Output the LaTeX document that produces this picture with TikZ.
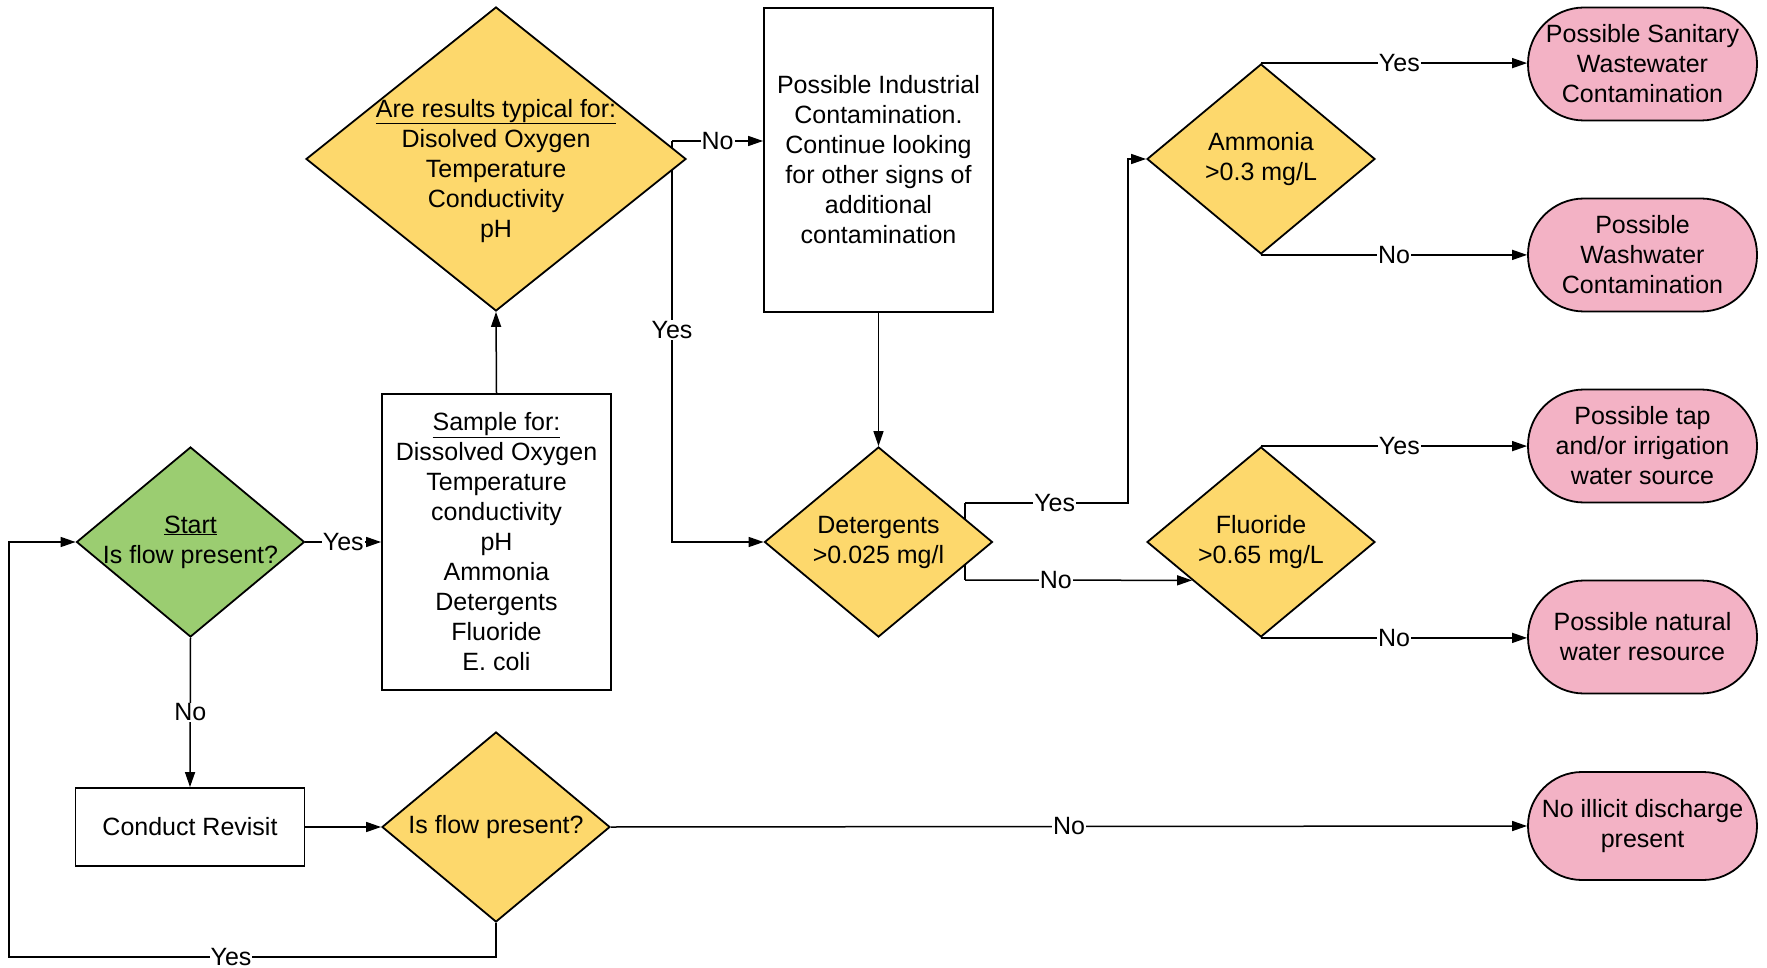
\documentclass[tikz,border=0pt]{standalone}
\usepackage{fontspec}
\setmainfont{Liberation Sans}
\usetikzlibrary{arrows.meta,shapes.geometric,calc}
\definecolor{fgreen}{RGB}{155,205,113}
\definecolor{fyellow}{RGB}{253,216,108}
\definecolor{fpink}{RGB}{243,178,197}
\newcommand\dtxt[2][0pt]{\makebox[0pt]{\smash{\raisebox{\dimexpr-0.25em-#1\relax}{\begin{tabular}{@{}c@{}}#2\end{tabular}}}}}
\begin{document}
\begin{tikzpicture}[x=1pt,y=-1pt,
 every node/.style={font=\fontsize{25}{30}\selectfont},
 dia/.style={shape=diamond, draw, line width=1.8pt, inner sep=0pt, fill=fyellow},
 boxn/.style={rectangle, draw, line width=1.8pt, inner sep=0pt, fill=white, align=center},
 term/.style={rectangle, rounded corners=56pt, draw, line width=1.8pt, fill=fpink, inner sep=0pt, minimum width=229pt, minimum height=113pt, align=center},
 arr/.style={line width=1.5pt, -{Triangle[length=15pt,width=10pt]}},
 ln/.style={line width=1.5pt},
 lbl/.style={fill=white, inner sep=1pt}
]
\useasboundingbox[fill=white] (0,0) rectangle (1767,968);

% nodes
\node[dia, fill=fgreen, minimum width=228pt, minimum height=190pt] (start) at (190.5,542) {\dtxt{\underline{Start}\\Is flow present?}};
\node[boxn, minimum width=229pt, minimum height=296pt] (samp) at (496.5,542) {\underline{Sample for:}\\Dissolved Oxygen\\Temperature\\conductivity\\pH\\Ammonia\\Detergents\\Fluoride\\E. coli};
\node[dia, minimum width=380pt, minimum height=304pt] (are) at (496,159) {\dtxt[12pt]{\underline{Are results typical for:}\\Disolved Oxygen\\Temperature\\Conductivity\\pH}};
\node[boxn, minimum width=229pt, minimum height=304pt] (ind) at (878.5,160) {Possible Industrial\\Contamination.\\Continue looking\\for other signs of\\additional\\contamination};
\node[dia, minimum width=228pt, minimum height=190pt] (det) at (878.5,542) {\dtxt{Detergents\\>0.025 mg/l}};
\node[dia, minimum width=228pt, minimum height=190pt] (amm) at (1261,159) {\dtxt{Ammonia\\>0.3 mg/L}};
\node[dia, minimum width=228pt, minimum height=190pt] (flu) at (1261,542) {\dtxt{Fluoride\\>0.65 mg/L}};
\node[boxn, minimum width=229pt, minimum height=78pt] (rev) at (190,827) {Conduct Revisit};
\node[dia, minimum width=228pt, minimum height=190pt] (flow) at (496,827) {\dtxt{Is flow present?}};

\node[term] (t1) at (1642.5,64) {Possible Sanitary\\Wastewater\\Contamination};
\node[term] (t2) at (1642.5,255) {Possible\\Washwater\\Contamination};
\node[term] (t3) at (1642.5,446) {Possible tap\\and/or irrigation\\water source};
\node[term] (t4) at (1642.5,637) {Possible natural\\water resource};
\node[term, minimum height=108pt, rounded corners=54pt] (t5) at (1642.5,826) {No illicit discharge\\present};

% helper coordinates
\coordinate (n1) at (672,148);
\coordinate (n2) at (672,141);
\coordinate (y1) at (672,170);
\coordinate (dy1) at (965,519);
\coordinate (dy2) at (965,503);
\coordinate (dy3) at (1128,503);
\coordinate (dn1) at (965,565);
\coordinate (dn2) at (965,580);
\coordinate (fluin) at ($(flu.west)!0.4!(flu.south)$);
\coordinate (lp) at (9,957);

% connectors
\draw[arr] (start.east) -- node[lbl]{Yes} (samp.west);
\draw[arr] (samp.north) -- (are.south);
\draw[ln] (n1) -- (n2);
\draw[arr] (n2) -- node[lbl]{No} (n2 -| ind.west);
\draw[arr] (y1) |- node[lbl,pos=0.215]{Yes} (det.west);
\draw[arr] (ind.south) -- (det.north);
\draw[ln] (dy1) -- (dy2);
\draw[arr] (dy2) -- node[lbl,pos=0.55]{Yes} (dy3) |- (amm.west);
\draw[ln] (dn1) -- (dn2);
\draw[arr] (dn2) -- node[lbl,pos=0.4]{No} (fluin);
\draw[arr] (amm.north) -- node[lbl,pos=0.52]{Yes} (amm.north -| t1.west);
\draw[arr] (amm.south) -- node[lbl,pos=0.5]{No} (amm.south -| t2.west);
\draw[arr] (flu.north) -- node[lbl,pos=0.52]{Yes} (flu.north -| t3.west);
\draw[arr] (flu.south) -- node[lbl,pos=0.5]{No} (flu.south -| t4.west);
\draw[arr] (start.south) -- node[lbl]{No} (rev.north);
\draw[arr] (rev.east) -- (flow.west);
\draw[arr] (flow.east) -- node[lbl]{No} (t5.west);
\draw[arr] (flow.south) |- node[lbl,pos=0.772]{Yes} (lp) |- (start.west);
\end{tikzpicture}
\end{document}
